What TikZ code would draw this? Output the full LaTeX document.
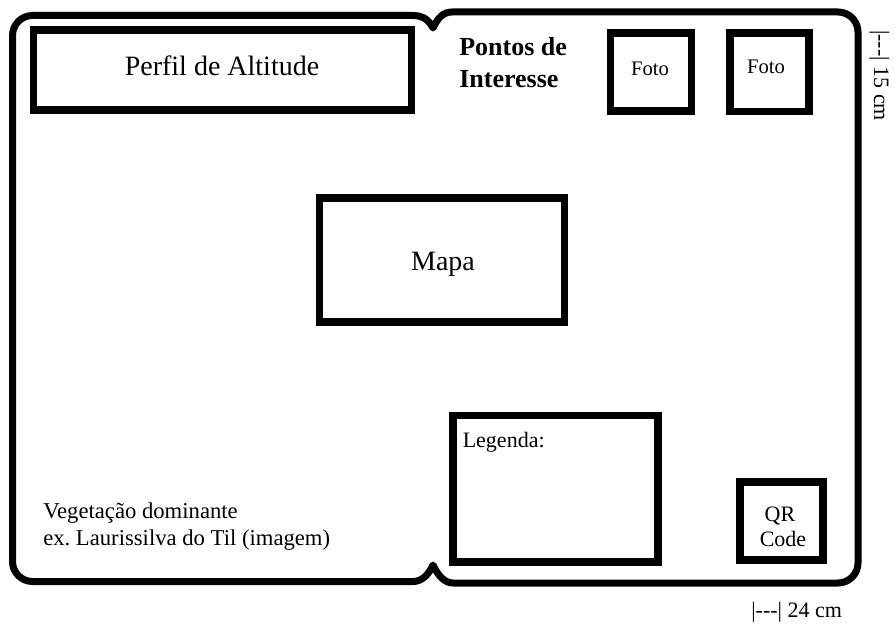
\documentclass[tikz,border=0pt]{standalone}
\usepackage{fontspec}
\setmainfont{Liberation Serif}
\begin{document}
\begin{tikzpicture}[x=0.75pt,y=-0.75pt,
  frame/.style={line width=5.25pt, line join=round},
  box/.style={draw, line width=5.6pt, inner sep=0pt, outer sep=0pt},
  bigtext/.style={font=\fontsize{21}{25}\selectfont, inner sep=0pt},
  headtext/.style={font=\fontsize{19.5}{24}\selectfont\bfseries, inner sep=0pt},
  smalltext/.style={font=\fontsize{16.5}{20}\selectfont, inner sep=0pt},
  vegtext/.style={font=\fontsize{17}{20}\selectfont, inner sep=0pt},
  fototext/.style={font=\fontsize{15.5}{19}\selectfont, inner sep=0pt},
]
\useasboundingbox (0,0) rectangle (895,624);

% outer folded frame
\draw[frame] (433,28) .. controls (427,17) and (420,15.5) .. (413,15.5)
  -- (32.5,15.5) .. controls (21.5,15.5) and (12.5,24.5) .. (12.5,35.5)
  -- (12.5,561.5) .. controls (12.5,572.5) and (21.5,581.5) .. (32.5,581.5)
  -- (413,581.5) .. controls (421,581.5) and (428,576) .. (433,565)
  .. controls (438,576) and (445,583) .. (453,583)
  -- (838,583) .. controls (849,583) and (858,574) .. (858,563)
  -- (858,32) .. controls (858,21) and (849,12) .. (838,12)
  -- (452,12) .. controls (444,12) and (438,17) .. (433,28) -- cycle;

% boxes
\node[box, minimum width=283.5pt, minimum height=60pt] (perfil) at (222.5,70) {};
\node[box, minimum width=60.75pt, minimum height=58.5pt] (foto1) at (651,72) {};
\node[box, minimum width=59.25pt, minimum height=59pt] (foto2) at (769.5,72.3) {};
\node[box, minimum width=183.4pt, minimum height=92.8pt] (mapa) at (442,260) {};
\node[box, minimum width=153.75pt, minimum height=110pt] (legenda) at (555.5,488.7) {};
\node[box, minimum width=62.25pt, minimum height=58.7pt] (qr) at (781.5,521) {};

% texts
\node[bigtext, anchor=base] (perfilT) at (222,75.5) {Perfil de Altitude};
\node[headtext, anchor=base west] (pontos1) at (459,56) {Pontos de};
\node[headtext, anchor=base west] (pontos2) at (459,88) {Interesse};
\node[fototext, anchor=base] (foto1T) at (650,76) {Foto};
\node[fototext, anchor=base] (foto2T) at (766,73.3) {Foto};
\node[bigtext, anchor=base] (mapaT) at (443,270.5) {Mapa};
\node[smalltext, anchor=base west] (legendaT) at (462.5,447) {Legenda:};
\node[smalltext, anchor=base] (qrT1) at (780,521) {QR};
\node[smalltext, anchor=base] (qrT2) at (783,546) {Code};
\node[vegtext, anchor=base west] (veg1) at (43,518) {Vegetação dominante};
\node[vegtext, anchor=base west] (veg2) at (43,545) {ex.\ Laurissilva do Til (imagem)};

% dimension notes
\node[smalltext, anchor=base west] (dimW) at (751,617) {|{-}{-}{-}| 24 cm};
\node[smalltext, anchor=base west, rotate=-90] (dimH) at (874,30) {|{-}{-}{-}| 15 cm};
\end{tikzpicture}
\end{document}
